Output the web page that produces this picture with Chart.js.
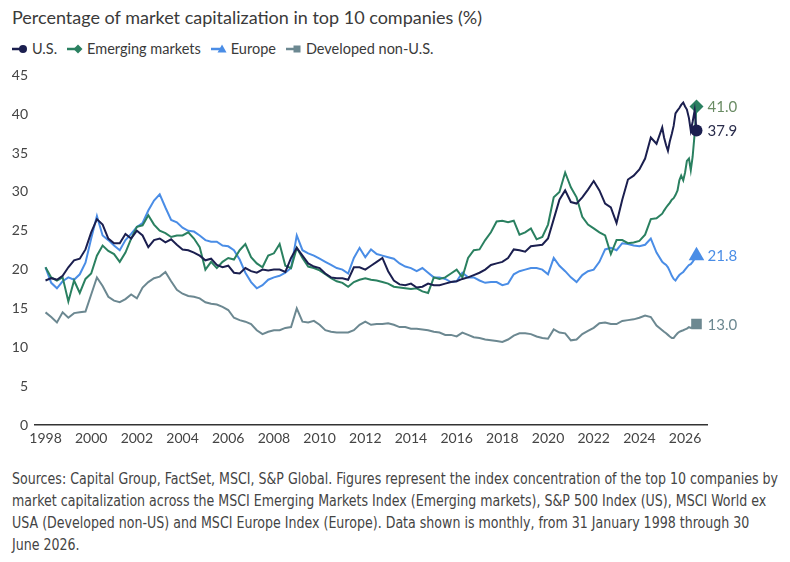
<!DOCTYPE html>
<html>
<head>
<meta charset="utf-8">
<script src="https://cdn.jsdelivr.net/npm/chart.js@4.4.1/dist/chart.umd.min.js"></script>
<style>
  html, body { margin: 0; padding: 0; background: #fff; }
  body { width: 790px; height: 562px; position: relative; overflow: hidden; font-family: Lato, "Noto Sans", sans-serif; }
  #title { position: absolute; left: 12px; top: 5px; font-size: 18px; line-height: 24px; color: #3a3a3a; white-space: nowrap; }
  #legend { position: absolute; left: 12px; top: 40px; height: 18px; display: flex; font-size: 14.5px; line-height: 18px; color: #3a3a3a; }
  .item { display: flex; align-items: center; margin-right: 10px; white-space: nowrap; }
  .item svg { margin-right: 4px; }
  #chart-box { position: absolute; left: 0; top: 60px; width: 790px; height: 400px; }
  #note { position: absolute; left: 12px; top: 468px; font-size: 15px; line-height: 22px; color: #444;
          font-family: "Liberation Sans Narrow", "DejaVu Sans Condensed", Lato, sans-serif; }
  .line { white-space: nowrap; transform-origin: left center; width: max-content; }
</style>
</head>
<body>
<div id="title">Percentage of market capitalization in top 10 companies (%)</div>
<div id="legend"></div>
<div id="chart-box"><canvas id="chart"></canvas></div>
<div id="note">
  <div class="line">Sources: Capital Group, FactSet, MSCI, S&amp;P Global. Figures represent the index concentration of the top 10 companies by</div>
  <div class="line">market capitalization across the MSCI Emerging Markets Index (Emerging markets), S&amp;P 500 Index (US), MSCI World ex</div>
  <div class="line">USA (Developed non-US) and MSCI Europe Index (Europe). Data shown is monthly, from 31 January 1998 through 30</div>
  <div class="line">June 2026.</div>
</div>
<script>
// quarterly to end of 2024, monthly after that
const dates = [
  1998.00, 1998.25, 1998.50, 1998.75, 1999.00, 1999.25, 1999.50, 1999.75,
  2000.00, 2000.25, 2000.50, 2000.75, 2001.00, 2001.25, 2001.50, 2001.75,
  2002.00, 2002.25, 2002.50, 2002.75, 2003.00, 2003.25, 2003.50, 2003.75,
  2004.00, 2004.25, 2004.50, 2004.75, 2005.00, 2005.25, 2005.50, 2005.75,
  2006.00, 2006.25, 2006.50, 2006.75, 2007.00, 2007.25, 2007.50, 2007.75,
  2008.00, 2008.25, 2008.50, 2008.75, 2009.00, 2009.25, 2009.50, 2009.75,
  2010.00, 2010.25, 2010.50, 2010.75, 2011.00, 2011.25, 2011.50, 2011.75,
  2012.00, 2012.25, 2012.50, 2012.75, 2013.00, 2013.25, 2013.50, 2013.75,
  2014.00, 2014.25, 2014.50, 2014.75, 2015.00, 2015.25, 2015.50, 2015.75,
  2016.00, 2016.25, 2016.50, 2016.75, 2017.00, 2017.25, 2017.50, 2017.75,
  2018.00, 2018.25, 2018.50, 2018.75, 2019.00, 2019.25, 2019.50, 2019.75,
  2020.00, 2020.25, 2020.50, 2020.75, 2021.00, 2021.25, 2021.50, 2021.75,
  2022.00, 2022.25, 2022.50, 2022.75, 2023.00, 2023.25, 2023.50, 2023.75,
  2024.00, 2024.25, 2024.50, 2024.75,
  2025.00, 2025.08, 2025.17, 2025.25, 2025.33, 2025.42, 2025.50, 2025.58,
  2025.67, 2025.75, 2025.83, 2025.92, 2026.00, 2026.08, 2026.17, 2026.25,
  2026.33, 2026.42, 2026.50
];

const usValues = [
  18.6, 18.9, 18.7, 19.2, 20.3, 21.2, 21.4, 22.6,
  24.8, 26.5, 25.8, 24.0, 23.4, 23.4, 24.6, 24.0,
  25.0, 24.4, 22.9, 23.8, 24.0, 23.5, 23.9, 23.2,
  22.6, 22.5, 22.2, 21.8, 21.2, 21.4, 20.6, 20.3,
  20.5, 19.6, 19.5, 20.2, 19.8, 19.6, 20.0, 19.9,
  20.0, 20.0, 19.7, 21.5, 22.8, 21.8, 20.8, 20.4,
  20.2, 19.5, 19.0, 18.9, 18.9, 18.7, 20.3, 20.3,
  20.0, 20.5, 21.0, 21.5, 19.8, 18.6, 18.1, 18.0,
  18.2, 17.7, 17.8, 18.2, 18.0, 18.0, 18.2, 18.4,
  18.5, 18.8, 19.0, 19.3, 19.6, 20.0, 20.6, 20.8,
  21.0, 21.5, 22.6, 22.5, 22.3, 23.0, 23.1, 23.2,
  24.0, 26.5, 29.0, 30.2, 28.7, 28.5, 29.3, 30.3,
  31.4, 30.2, 28.5, 28.0, 26.0, 29.0, 31.6, 32.1,
  32.9, 34.3, 37.0, 36.2,
  38.3, 37.0, 36.0, 35.3, 36.5, 37.5, 38.5, 40.1,
  40.5, 40.8, 41.2, 41.5, 41.0, 40.6, 39.5, 37.9,
  39.0, 40.5, 37.9
];

const emValues = [
  20.3, 19.0, 18.6, 19.0, 15.9, 18.6, 17.0, 18.8,
  19.5, 21.8, 23.1, 22.4, 22.0, 21.0, 22.2, 24.0,
  25.5, 25.7, 27.0, 25.8, 25.0, 24.7, 24.2, 24.4,
  24.4, 24.8, 24.0, 22.9, 20.0, 21.0, 20.2, 21.0,
  21.5, 21.3, 22.5, 23.3, 21.6, 20.8, 20.3, 21.8,
  22.1, 23.3, 20.5, 20.2, 22.8, 21.5, 20.4, 20.2,
  19.9, 19.4, 18.9, 18.5, 18.3, 17.8, 18.4, 18.7,
  18.9, 18.7, 18.6, 18.4, 18.2, 17.8, 17.7, 17.6,
  17.5, 17.6, 17.2, 17.0, 19.0, 18.8, 19.0, 19.5,
  20.0, 19.0, 21.5, 22.5, 22.6, 23.8, 24.8, 26.2,
  26.3, 26.1, 26.3, 24.5, 24.8, 25.3, 23.9, 24.2,
  25.8, 29.3, 30.0, 32.5, 30.6, 29.3, 26.8, 25.8,
  25.3, 24.8, 24.4, 22.0, 23.8, 23.8, 23.4, 23.5,
  23.7, 24.5, 26.5, 26.6,
  27.2, 27.6, 28.0, 28.3, 28.6, 29.0, 29.2, 29.6,
  30.2, 31.5, 32.1, 31.5, 32.5, 34.0, 34.3, 32.8,
  34.5, 37.5, 41.0
];

const europeValues = [
  20.3, 18.3, 17.6, 18.5, 19.0, 18.7, 19.4, 20.9,
  24.0, 26.9, 24.4, 23.8, 23.1, 22.5, 23.8, 24.6,
  25.5, 26.0, 27.6, 28.9, 29.7, 28.0, 26.4, 26.1,
  25.4, 25.0, 24.9, 24.4, 23.8, 23.6, 23.6, 23.1,
  23.0, 22.5, 21.3, 19.6, 18.4, 17.6, 18.0, 18.7,
  19.0, 19.2, 19.6, 20.2, 24.4, 22.5, 22.1, 21.8,
  21.4, 21.0, 20.6, 20.2, 20.0, 19.5, 21.5, 22.8,
  21.6, 22.6, 22.0, 21.8, 21.6, 21.4, 20.8, 20.4,
  20.2, 19.8, 20.2, 19.6, 19.0, 19.0, 18.8, 18.4,
  18.5, 19.6, 19.0, 19.0, 18.6, 18.3, 18.4, 18.4,
  18.0, 18.2, 19.4, 19.8, 20.0, 20.2, 20.2, 20.0,
  19.4, 21.5, 20.5, 19.8, 19.0, 18.4, 19.3, 19.8,
  20.0, 21.0, 22.6, 22.8, 22.5, 23.4, 23.3, 23.1,
  23.0, 23.2, 24.0, 22.2,
  21.0, 20.8, 20.6, 20.3, 19.8, 19.2, 18.8, 18.6,
  19.0, 19.3, 19.5, 19.7, 20.0, 20.3, 20.6, 20.7,
  21.0, 21.4, 21.8
];

const devValues = [
  14.5, 13.9, 13.2, 14.5, 13.8, 14.4, 14.5, 14.6,
  16.8, 19.0, 17.9, 16.5, 16.0, 15.8, 16.2, 16.8,
  16.3, 17.7, 18.4, 18.9, 19.1, 19.7, 18.5, 17.4,
  16.9, 16.6, 16.5, 16.3, 15.8, 15.6, 15.5, 15.2,
  14.8, 13.8, 13.5, 13.3, 13.0, 12.2, 11.7, 12.0,
  12.2, 12.2, 12.5, 12.6, 15.0, 13.3, 13.2, 13.4,
  12.9, 12.2, 12.0, 11.9, 11.9, 11.9, 12.2, 12.9,
  13.3, 12.9, 13.0, 13.0, 13.1, 12.9, 12.6, 12.6,
  12.4, 12.4, 12.3, 12.2, 12.0, 11.9, 11.6, 11.6,
  11.4, 11.9, 11.6, 11.3, 11.2, 11.0, 10.9, 10.8,
  10.7, 11.0, 11.5, 11.8, 11.8, 11.7, 11.4, 11.2,
  11.1, 12.3, 11.9, 11.8, 10.9, 11.0, 11.7, 12.1,
  12.5, 13.1, 13.2, 13.0, 13.0, 13.4, 13.5, 13.6,
  13.8, 14.1, 13.9, 12.8,
  12.2, 12.0, 11.8, 11.6, 11.4, 11.2, 11.2, 11.5,
  11.8, 12.0, 12.1, 12.2, 12.3, 12.4, 12.6, 12.5,
  12.6, 12.8, 13.0
];

const yearTicks = [1998, 2000, 2002, 2004, 2006, 2008, 2010, 2012, 2014, 2016, 2018, 2020, 2022, 2024, 2026];

const series = [
  { name: 'U.S.', values: usValues, color: '#1b1f4f', labelColor: '#2a2d4c', marker: 'circle', size: 6 },
  { name: 'Emerging markets', values: emValues, color: '#2a8060', labelColor: '#6a8c64', marker: 'rectRot', size: 7 },
  { name: 'Europe', values: europeValues, color: '#4a8de6', labelColor: '#4a8de6', marker: 'triangle', size: 9 },
  { name: 'Developed non-U.S.', values: devValues, color: '#6c8891', labelColor: '#6c8891', marker: 'rect', size: 7.5 }
];

// html legend with line + marker
function legendIcon(s) {
  let m;
  if (s.marker === 'circle') m = `<circle cx="11" cy="6" r="4" fill="${s.color}"/>`;
  else if (s.marker === 'rectRot') m = `<polygon points="11,1.5 15.5,6 11,10.5 6.5,6" fill="${s.color}"/>`;
  else if (s.marker === 'triangle') m = `<polygon points="11,1.5 15.5,9.5 6.5,9.5" fill="${s.color}"/>`;
  else m = `<rect x="7.5" y="2.5" width="7" height="7" fill="${s.color}"/>`;
  return `<svg width="16" height="12"><line x1="0" y1="6" x2="10" y2="6" stroke="${s.color}" stroke-width="2.5"/>${m}</svg>`;
}
let legendDiv = document.getElementById('legend');
series.forEach(s => {
  let item = document.createElement('div');
  item.className = 'item';
  item.innerHTML = legendIcon(s) + `<span>${s.name}</span>`;
  legendDiv.appendChild(item);
});

// fit footnote lines to the original width
let lines = document.querySelectorAll('#note .line');
let k = 766 / lines[0].getBoundingClientRect().width;
lines.forEach(l => { l.style.transform = `scaleX(${k})`; });

// value labels next to the end markers
const endLabels = {
  id: 'endLabels',
  afterDatasetsDraw(chart) {
    const ctx = chart.ctx;
    ctx.save();
    ctx.font = '15px Lato, "Noto Sans", sans-serif';
    ctx.textBaseline = 'middle';
    ctx.textAlign = 'left';
    chart.data.datasets.forEach((ds, i) => {
      const meta = chart.getDatasetMeta(i);
      const pt = meta.data[meta.data.length - 1];
      ctx.fillStyle = series[i].labelColor;
      ctx.fillText(ds.data[ds.data.length - 1].y.toFixed(1), pt.x + 11, pt.y + 1);
    });
    ctx.restore();
  }
};

const ctx = document.getElementById('chart').getContext('2d');
new Chart(ctx, {
  type: 'line',
  data: {
    datasets: series.map(s => ({
      label: s.name,
      data: dates.map((d, i) => ({ x: d, y: s.values[i] })),
      borderColor: s.color,
      backgroundColor: s.color,
      borderWidth: 2,
      tension: 0,
      pointStyle: s.marker,
      pointBorderWidth: 0,
      pointRadius: c => (c.dataIndex === dates.length - 1 ? s.size : 0),
      pointHoverRadius: 0
    }))
  },
  options: {
    responsive: true,
    maintainAspectRatio: false,
    animation: false,
    layout: { padding: { top: 15, right: 83, bottom: 0, left: 0 } },
    plugins: { legend: { display: false }, tooltip: { enabled: false } },
    scales: {
      x: {
        type: 'linear',
        min: 1997.54,
        max: 2026.96,
        grid: { display: false, drawTicks: false },
        border: { display: true, color: '#333', width: 1.5 },
        afterBuildTicks: scale => { scale.ticks = yearTicks.map(v => ({ value: v })); },
        afterFit: scale => { scale.height = 35; },
        ticks: {
          color: '#444',
          font: { family: 'Lato', size: 14 },
          padding: 5,
          maxRotation: 0,
          autoSkip: false,
          callback: v => String(v)
        }
      },
      y: {
        min: 0,
        max: 45,
        grid: { display: false, drawTicks: false },
        border: { display: false },
        afterFit: scale => { scale.width = 35; },
        ticks: {
          stepSize: 5,
          color: '#444',
          font: { family: 'Lato', size: 14 },
          padding: 7
        }
      }
    }
  },
  plugins: [endLabels]
});
</script>
</body>
</html>
